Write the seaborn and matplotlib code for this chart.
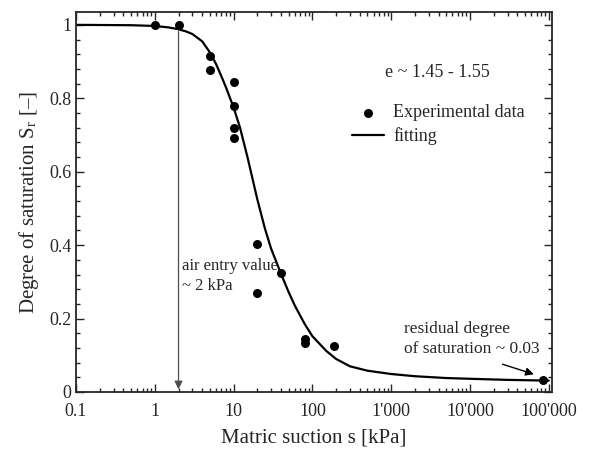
import numpy as np
import pandas as pd
import matplotlib
matplotlib.use("Agg")
import matplotlib.pyplot as plt
import seaborn as sns

# Experimental data
exp_suction = [1, 2, 5, 5, 10, 10, 10, 10, 20, 20, 40, 80, 80, 190, 85000]
exp_sr = [1.0, 1.0, 0.916, 0.878, 0.843, 0.779, 0.719, 0.692, 0.403, 0.271, 0.324, 0.145, 0.134, 0.125, 0.032]

# Fitting curve
fit_suction = [0.1, 0.5, 1, 1.5, 2, 2.5, 3, 4, 5, 6, 7, 8, 10, 12, 15, 20, 25, 30, 40, 50,
               60, 80, 100, 150, 200, 300, 500, 1000, 2000, 5000, 10000, 30000, 100000]
fit_sr = [1.0, 0.999, 0.997, 0.993, 0.988, 0.982, 0.975, 0.955, 0.925, 0.893, 0.860, 0.830,
          0.775, 0.722, 0.640, 0.525, 0.445, 0.390, 0.322, 0.272, 0.235, 0.185, 0.152, 0.112,
          0.090, 0.070, 0.058, 0.049, 0.043, 0.038, 0.036, 0.033, 0.031]

x_ticks = [0.1, 1, 10, 100, 1000, 10000, 100000]
x_ticklabels = ["0.1", "1", "10", "100", "1'000", "10'000", "100'000"]
y_ticks = [0, 0.2, 0.4, 0.6, 0.8, 1.0]
y_ticklabels = ["0", "0.2", "0.4", "0.6", "0.8", "1"]

sns.set_style("ticks")
plt.rcParams["font.family"] = ["Liberation Serif", "DejaVu Serif"]
plt.rcParams["mathtext.fontset"] = "stix"

fig = plt.figure(figsize=(5.93, 4.54), dpi=100)
ax = fig.add_axes([76 / 593, 1 - 392 / 454, (552 - 76) / 593, (392 - 12) / 454])

df_exp = pd.DataFrame({"s": exp_suction, "Sr": exp_sr})
df_fit = pd.DataFrame({"s": fit_suction, "Sr": fit_sr})

sns.lineplot(data=df_fit, x="s", y="Sr", ax=ax, color="black", lw=1.6, sort=True,
             label="fitting", zorder=2)
sns.scatterplot(data=df_exp, x="s", y="Sr", ax=ax, color="black", s=42, edgecolor="black",
                linewidth=0, label="Experimental data", zorder=3)

ax.set_xscale("log")
ax.set_xlim(0.1, 1.1e5)
ax.set_ylim(0, 1.035)
ax.set_xticks(x_ticks)
ax.set_xticklabels(x_ticklabels)
ax.set_yticks(y_ticks)
ax.set_yticklabels(y_ticklabels)
ax.xaxis.set_minor_locator(matplotlib.ticker.LogLocator(base=10, subs=np.arange(2, 10)))
ax.xaxis.set_minor_formatter(matplotlib.ticker.NullFormatter())
ax.yaxis.set_minor_locator(matplotlib.ticker.MultipleLocator(0.04))
ax.tick_params(which="both", direction="in", top=True, right=True, labelsize=13, width=1.0)
ax.tick_params(which="major", length=6)
ax.tick_params(which="minor", length=3)
ax.tick_params(axis="x", pad=8)
for sp in ax.spines.values():
    sp.set_linewidth(1.3)

ax.set_xlabel("Matric suction s [kPa]", fontsize=15, labelpad=6)
ax.set_ylabel(r"Degree of saturation S$_\mathregular{r}$ [–]", fontsize=15, labelpad=6)

# legend
handles, labels = ax.get_legend_handles_labels()
order = [labels.index("Experimental data"), labels.index("fitting")]
ax.legend([handles[i] for i in order], [labels[i] for i in order], frameon=False,
          loc="upper left", bbox_to_anchor=(0.545, 0.80), fontsize=13,
          handlelength=1.8, handletextpad=0.5, labelspacing=0.35)

ax.text(0.87, 0.84, "e ~ 1.45 - 1.55", transform=ax.transAxes, fontsize=13,
        ha="right", va="center")

# air entry arrow
ax.annotate("", xy=(2, 0.0), xytext=(2, 0.99),
            arrowprops=dict(arrowstyle="-|>", color="0.3", lw=0.9, mutation_scale=12))
ax.text(2.2, 0.315, "air entry value\n~ 2 kPa", fontsize=12, ha="left", va="center",
        linespacing=1.35)

# residual arrow
ax.annotate("", xy=(70000, 0.046), xytext=(24000, 0.078),
            arrowprops=dict(arrowstyle="-|>", color="black", lw=1.0, mutation_scale=12))
ax.text(1450, 0.145, "residual degree\nof saturation ~ 0.03", fontsize=12.5, ha="left",
        va="center", linespacing=1.3)

fig.savefig("out.png", dpi=100)
